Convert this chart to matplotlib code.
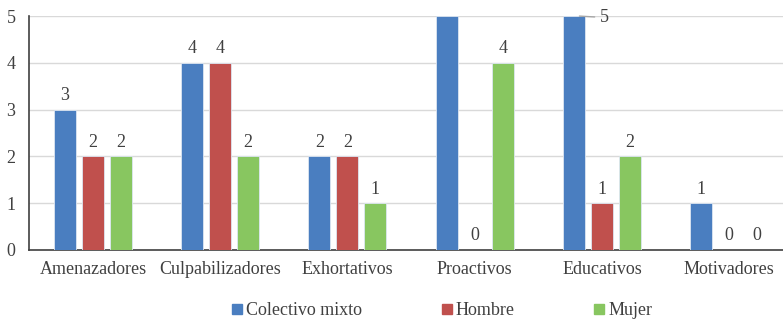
import numpy as np
import matplotlib.pyplot as plt
from matplotlib.lines import Line2D

categories = ['Amenazadores', 'Culpabilizadores', 'Exhortativos', 'Proactivos', 'Educativos', 'Motivadores']
series = ['Colectivo mixto', 'Hombre', 'Mujer']
colectivo = [3, 4, 2, 5, 5, 1]
hombre = [2, 4, 2, 0, 1, 0]
mujer = [2, 2, 1, 4, 2, 0]
colors = ['#4A7EC0', '#C0504D', '#88C660']

plt.rcParams['font.family'] = ['Liberation Serif', 'DejaVu Serif']

fig = plt.figure(figsize=(7.83, 3.22), dpi=100)
ax = fig.add_axes([0.0375, 0.224, 0.975, 0.726])

x = np.arange(len(categories))
w = 0.173
pitch = 0.22
values = [colectivo, hombre, mujer]
for i, (vals, c, name) in enumerate(zip(values, colors, series)):
    pos = x + (i - 1) * pitch
    ax.bar(pos, vals, width=w, color=c, edgecolor='#DDE6F2', linewidth=0.6, label=name, zorder=3)
    for p, v, cat in zip(pos, vals, categories):
        if v >= 5:
            # only the Educativos label is shown, pushed to the side
            if cat == 'Educativos':
                ax.annotate(str(v), xy=(p + w / 4, v), xytext=(p + w / 2 + 0.12, v - 0.03),
                            va='center', ha='left', fontsize=13, color='#404040',
                            arrowprops=dict(arrowstyle='-', color='#A6A6A6', lw=1.0,
                                            shrinkA=2, shrinkB=0), zorder=4)
            continue
        ax.text(p, v + 0.12, str(v), ha='center', va='bottom', fontsize=13, color='#404040')

ax.set_xlim(-0.5, len(categories) - 0.5)
ax.set_ylim(0, 5)
ax.set_yticks(range(6))
ax.set_xticks(x)
ax.set_xticklabels(categories)
ax.tick_params(axis='both', length=0, labelsize=13, colors='#404040')
ax.tick_params(axis='y', pad=10)
ax.tick_params(axis='x', pad=8)
ax.grid(axis='y', color='#D9D9D9', linewidth=1, zorder=0)
for s in ['top', 'right']:
    ax.spines[s].set_visible(False)
ax.spines['left'].set_color('#404040')
ax.spines['bottom'].set_color('#404040')
ax.spines['left'].set_linewidth(1.2)
ax.spines['bottom'].set_linewidth(1.2)

handles = [Line2D([], [], marker='s', linestyle='', color=c, markersize=7) for c in colors]
fig.legend(handles, series, loc='center', bbox_to_anchor=(0.562, 0.035), ncol=3,
           frameon=False, fontsize=13, handletextpad=0.0, columnspacing=4.2,
           handlelength=1.0, labelcolor='#404040')

fig.savefig('out.png', dpi=100)
